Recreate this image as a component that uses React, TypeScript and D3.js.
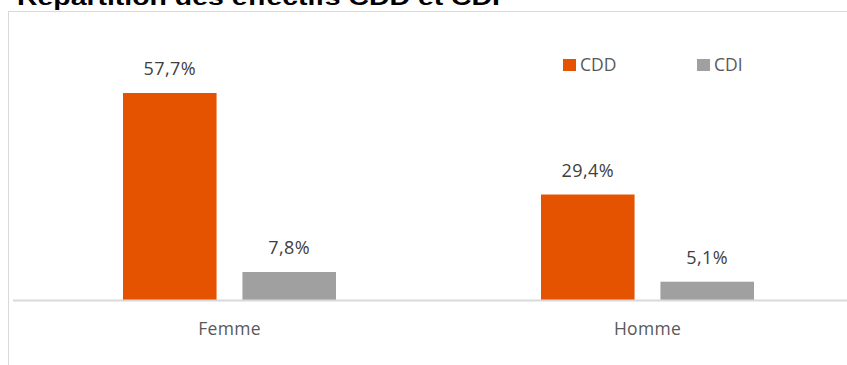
import React from "react";
import * as d3 from "d3";

const categories = ["Femme", "Homme"];
const seriesNames = ["CDD", "CDI"];
const cddValues = [57.7, 29.4];
const cdiValues = [7.8, 5.1];
const title = "Répartition des effectifs CDD et CDI";

const colors: Record<string, string> = { CDD: "#E55300", CDI: "#A0A0A0" };

export default function App() {
  const W = 847, H = 365;
  const baseY = 300;
  const x = d3.scaleBand().domain(categories).range([20.5, 856.5]).paddingInner(0).paddingOuter(0);
  const inner = d3.scaleBand().domain(seriesNames).range([0, 213]).paddingInner(26 / 120).paddingOuter(0);
  const y = d3.scaleLinear().domain([0, 57.7]).range([baseY, 93]);
  const fmt = (v: number) => v.toFixed(1).replace(".", ",") + "%";
  const data = categories.map((c, i) => ({ c, vals: [{ s: "CDD", v: cddValues[i] }, { s: "CDI", v: cdiValues[i] }] }));
  const font = "'Open Sans', sans-serif";
  return (
    <svg width={W} height={H} style={{ position: "absolute", left: 0, top: 0 }}>
      <rect x={8.5} y={11.5} width={900} height={400} fill="#fff" stroke="#D9D9D9" strokeWidth={1} />
      <text x={17} y={5} fontFamily="'Liberation Sans', Arial, sans-serif" fontWeight="bold" fontSize={22} fill="#000" textLength={483} lengthAdjust="spacingAndGlyphs">{title}</text>
      {data.map((d) => {
        const gx = (x(d.c) as number) + x.bandwidth() / 2 - 106.5;
        return (
          <g key={d.c}>
            {d.vals.map((b) => {
              const bx = gx + (inner(b.s) as number);
              const bw = inner.bandwidth();
              return (
                <g key={b.s}>
                  <rect x={bx} y={y(b.v)} width={bw} height={baseY - y(b.v)} fill={colors[b.s]} />
                  <text x={bx + bw / 2} y={y(b.v) - 18} textAnchor="middle" fontFamily={font} fontSize={18} letterSpacing={0.4} fill="#404040">{fmt(b.v)}</text>
                </g>
              );
            })}
            <text x={(x(d.c) as number) + x.bandwidth() / 2} y={335} textAnchor="middle" fontFamily={font} fontSize={17.5} letterSpacing={0.3} fill="#595959">{d.c}</text>
          </g>
        );
      })}
      <line x1={13} x2={W} y1={baseY + 0.5} y2={baseY + 0.5} stroke="#D9D9D9" strokeWidth={2} />
      {seriesNames.map((s, i) => (
        <g key={s} transform={`translate(${563 + i * 134},59)`}>
          <rect x={0} y={0} width={13} height={12} fill={colors[s]} />
          <text x={17} y={12} fontFamily={font} fontSize={17.5} fill="#595959">{s}</text>
        </g>
      ))}
    </svg>
  );
}
